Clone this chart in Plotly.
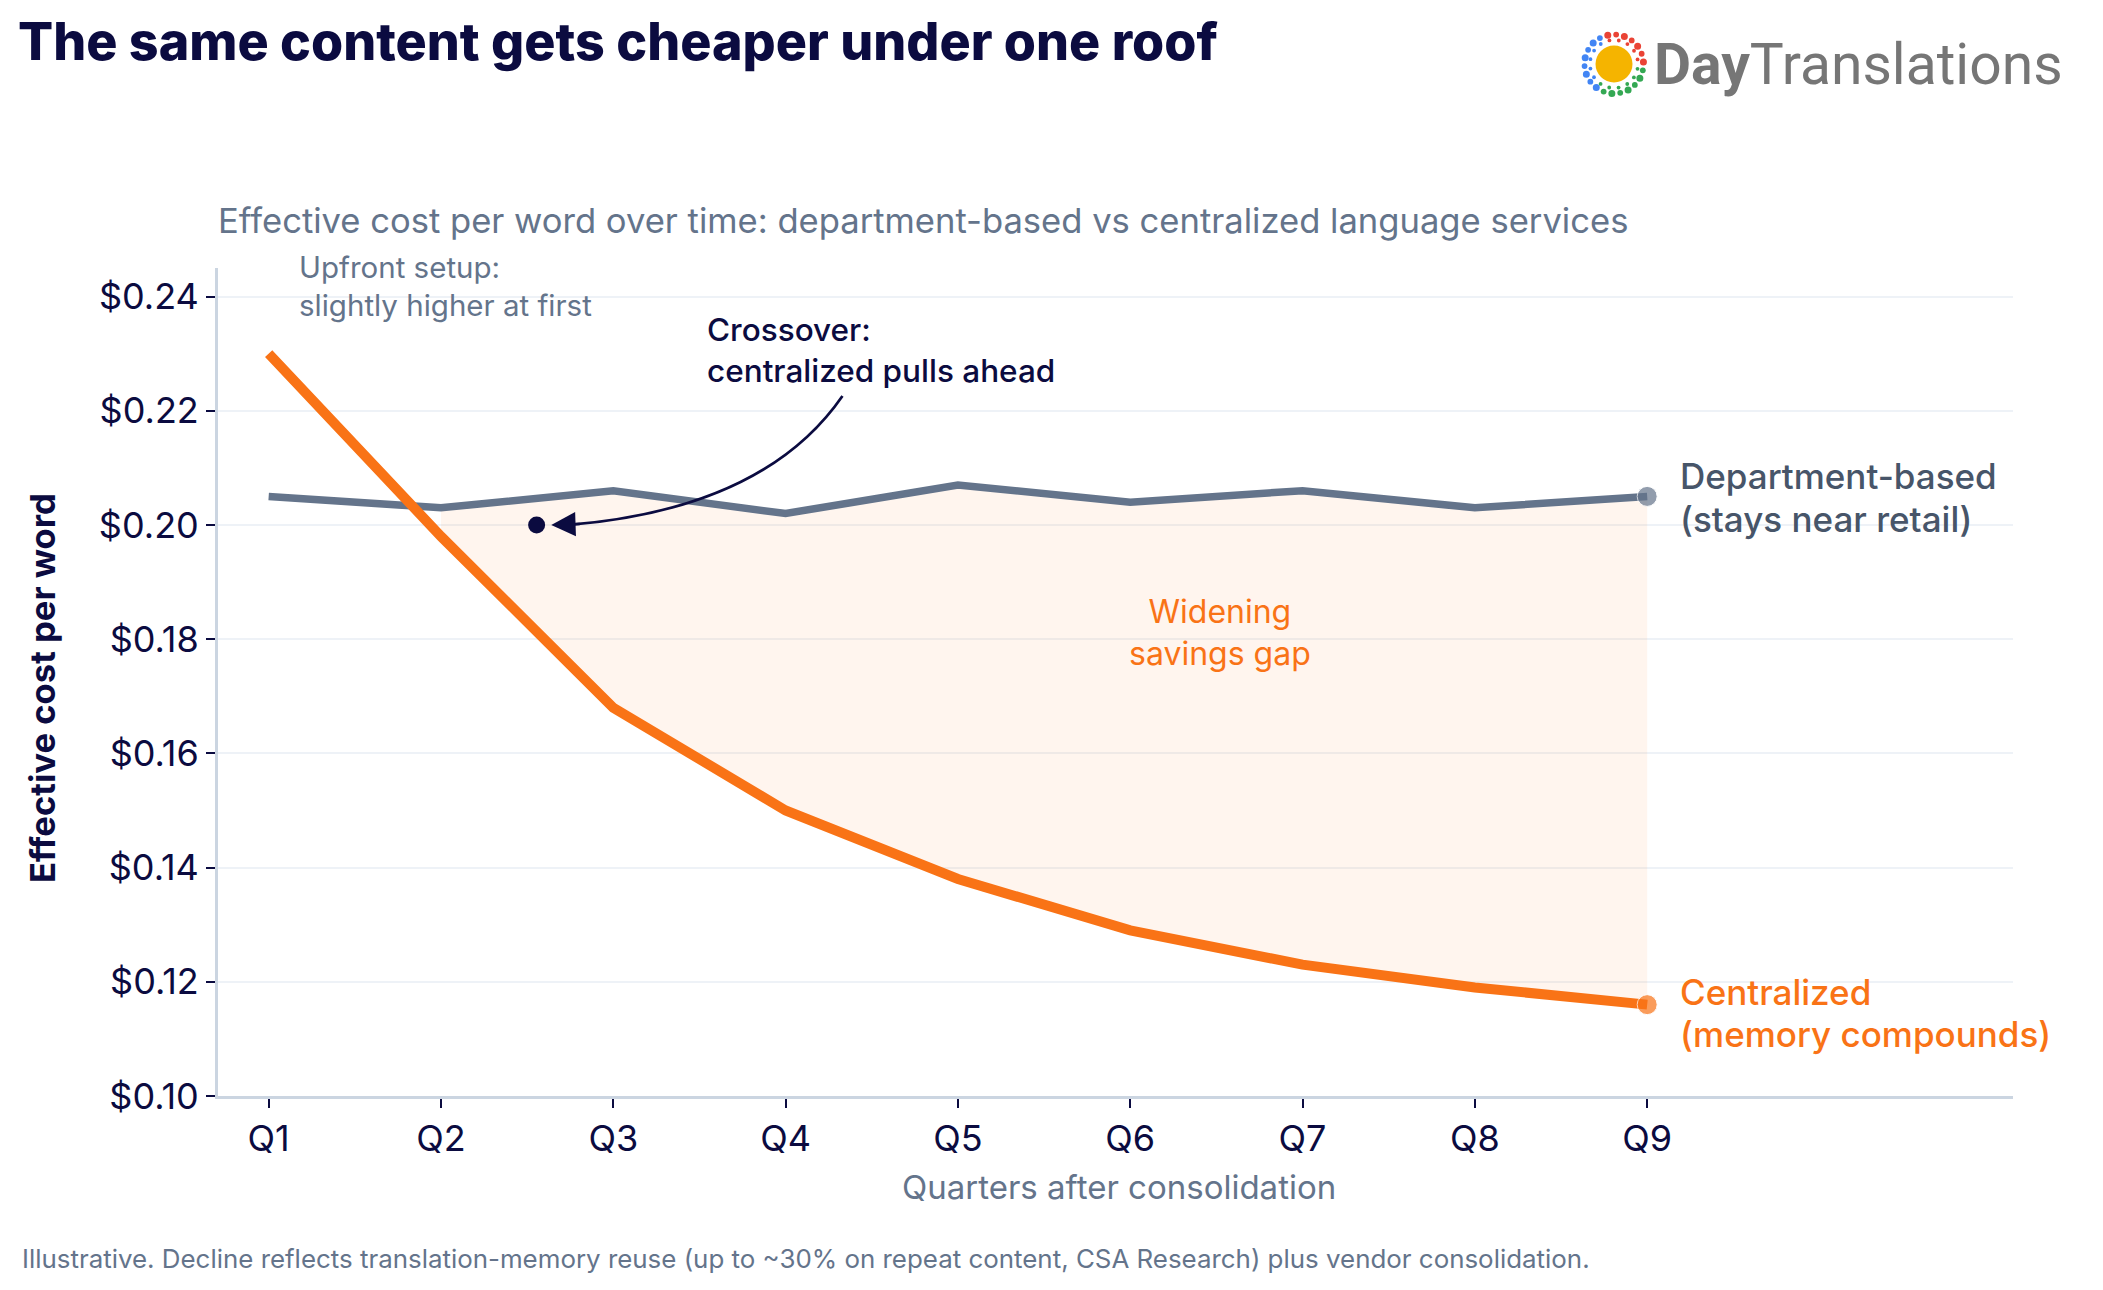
import math
import plotly.graph_objects as go

# ---------------- data ----------------
quarters = ["Q1", "Q2", "Q3", "Q4", "Q5", "Q6", "Q7", "Q8", "Q9"]
department_cost = [0.205, 0.203, 0.206, 0.202, 0.207, 0.204, 0.206, 0.203, 0.205]
centralized_cost = [0.230, 0.198, 0.168, 0.150, 0.138, 0.129, 0.123, 0.119, 0.116]
y_tick_values = [0.10, 0.12, 0.14, 0.16, 0.18, 0.20, 0.22, 0.24]
y_tick_labels = ["$0.10", "$0.12", "$0.14", "$0.16", "$0.18", "$0.20", "$0.22", "$0.24"]
fill_start_index = 1          # savings gap shaded from Q2 onward
crossover_point = (1.555, 0.200)

# ---------------- styles ----------------
NAVY = "#0b0b40"
SLATE = "#64748b"
SLATE_DARK = "#475569"
ORANGE = "#f97316"
FONT = "Inter"

x_idx = list(range(len(quarters)))
OFF = 8                       # page body margin
W, H = 2103 - 2 * OFF, 1290 - 2 * OFF

fig = go.Figure()

fig.add_trace(go.Scatter(
    x=x_idx[fill_start_index:], y=department_cost[fill_start_index:],
    mode="lines", line=dict(width=0, color=SLATE), hoverinfo="skip", showlegend=False))
fig.add_trace(go.Scatter(
    x=x_idx[fill_start_index:], y=centralized_cost[fill_start_index:],
    mode="lines", line=dict(width=0, color=ORANGE), fill="tonexty",
    fillcolor="rgba(249,115,22,0.075)", hoverinfo="skip", showlegend=False))

n = len(quarters)
fig.add_trace(go.Scatter(
    x=x_idx, y=department_cost, mode="lines+markers",
    line=dict(color=SLATE, width=7.5),
    marker=dict(size=[0] * (n - 1) + [20], color=SLATE),
    name="Department-based", showlegend=False))
fig.add_trace(go.Scatter(
    x=x_idx, y=centralized_cost, mode="lines+markers",
    line=dict(color=ORANGE, width=10),
    marker=dict(size=[0] * (n - 1) + [20], color=ORANGE),
    name="Centralized", showlegend=False))
fig.add_trace(go.Scatter(
    x=[crossover_point[0]], y=[crossover_point[1]], mode="markers",
    marker=dict(size=17, color=NAVY), showlegend=False, hoverinfo="skip"))

# ---------------- layout (positions in reference pixels) ----------------
PLOT_LEFT, PLOT_RIGHT, PLOT_TOP, PLOT_BOTTOM = 218, 2013, 268, 1096
L = PLOT_LEFT - OFF
T = PLOT_TOP - OFF
R = W - (PLOT_RIGHT - OFF)
B = H - (PLOT_BOTTOM - OFF)
plot_w = PLOT_RIGHT - PLOT_LEFT
plot_h = PLOT_BOTTOM - PLOT_TOP

def px_to_paper_x(px):
    return (px - PLOT_LEFT) / plot_w

def px_to_paper_y(py):
    return (PLOT_BOTTOM - py) / plot_h

fig.update_layout(
    width=W, height=H,
    margin=dict(l=L, r=R, t=T, b=B),
    paper_bgcolor="white", plot_bgcolor="white",
    font=dict(family=FONT, color=NAVY),
    showlegend=False,
    title=dict(
        text="The same content gets cheaper under one roof",
        x=(18 - OFF) / W, xref="container", xanchor="left",
        y=1 - (42 - OFF) / H, yref="container", yanchor="middle",
        font=dict(family=FONT, size=52, color=NAVY, weight=800),
    ),
    xaxis=dict(
        range=[-0.294, 10.123], tickmode="array", tickvals=x_idx, ticktext=quarters,
        showgrid=False, zeroline=False,
        showline=True, linecolor="#cbd5e1", linewidth=3,
        ticks="outside", ticklen=9, tickwidth=2, tickcolor=NAVY,
        tickfont=dict(family=FONT, size=36, color=NAVY),
    ),
    yaxis=dict(
        range=[0.10, 0.245], tickmode="array", tickvals=y_tick_values, ticktext=y_tick_labels,
        showgrid=True, gridcolor="#eef2f7", gridwidth=2, zeroline=False,
        showline=True, linecolor="#cbd5e1", linewidth=3,
        ticks="outside", ticklen=9, tickwidth=2, tickcolor=NAVY,
        tickfont=dict(family=FONT, size=36, color=NAVY),
    ),
)

annotations = [
    dict(text="Effective cost per word over time: department-based vs centralized language services",
         xref="paper", yref="paper", x=px_to_paper_x(216), y=px_to_paper_y(220), xanchor="left", yanchor="middle",
         showarrow=False, font=dict(family=FONT, size=34.6, color=SLATE)),
    dict(text="Effective cost per word", xref="paper", yref="paper",
         x=px_to_paper_x(42), y=px_to_paper_y(688), textangle=-90,
         xanchor="center", yanchor="middle", showarrow=False,
         font=dict(family=FONT, size=34.6, color=NAVY, weight=700)),
    dict(text="Quarters after consolidation", xref="paper", yref="paper",
         x=px_to_paper_x(1119), y=px_to_paper_y(1187), xanchor="center", yanchor="middle",
         showarrow=False, font=dict(family=FONT, size=33, color=SLATE)),
    dict(text="Illustrative. Decline reflects translation-memory reuse (up to ~30% on repeat content, CSA Research) plus vendor consolidation.",
         xref="paper", yref="paper", x=px_to_paper_x(20), y=px_to_paper_y(1258),
         xanchor="left", yanchor="middle", showarrow=False,
         font=dict(family=FONT, size=25.9, color=SLATE)),
    dict(text="Upfront setup:<br>slightly higher at first", xref="x", yref="y",
         x=0.163, y=0.2419, xanchor="left", yanchor="middle", align="left",
         showarrow=False, font=dict(family=FONT, size=29.5, color=SLATE)),
    dict(text="Crossover:<br>centralized pulls ahead", xref="x", yref="y",
         x=2.535, y=0.2306, xanchor="left", yanchor="middle", align="left",
         showarrow=False, font=dict(family=FONT, size=31.5, color=NAVY, weight=500)),
    dict(text="", xref="x", yref="y", x=1.64, y=0.2000, ax=30, ay=-1,
         showarrow=True, arrowhead=2, arrowsize=1.8, arrowwidth=2.7, arrowcolor=NAVY),
    dict(text="Widening<br>savings gap", xref="x", yref="y", x=5.52, y=0.1812,
         xanchor="center", yanchor="middle", align="center", showarrow=False,
         font=dict(family=FONT, size=32, color=ORANGE)),
    # end-of-line series labels (one annotation per line for tighter leading)
    dict(text="Department-based", xref="x", yref="y",
         x=8.18, y=0.2085, xanchor="left", yanchor="middle", align="left", showarrow=False,
         font=dict(family=FONT, size=35, color=SLATE_DARK, weight=500)),
    dict(text="(stays near retail)", xref="x", yref="y",
         x=8.18, y=0.2010, xanchor="left", yanchor="middle", align="left", showarrow=False,
         font=dict(family=FONT, size=35, color=SLATE_DARK, weight=500)),
    dict(text="Centralized", xref="x", yref="y",
         x=8.18, y=0.1183, xanchor="left", yanchor="middle", align="left", showarrow=False,
         font=dict(family=FONT, size=35, color=ORANGE, weight=500)),
    dict(text="(memory compounds)", xref="x", yref="y",
         x=8.18, y=0.1108, xanchor="left", yanchor="middle", align="left", showarrow=False,
         font=dict(family=FONT, size=35, color=ORANGE, weight=500)),
    dict(text="<b>Day</b>Translations", xref="paper", yref="paper",
         x=px_to_paper_x(1652), y=px_to_paper_y(64), xanchor="left", yanchor="middle",
         showarrow=False, font=dict(family="Roboto", size=57, color="#767676")),
]
fig.update_layout(annotations=annotations)

shapes = [dict(type="path", xref="x", yref="y",
               path="M 3.33,0.2226 Q 2.877,0.2028 1.74,0.2000",
               line=dict(color=NAVY, width=2.7))]

# logo icon (decoration): sun + dotted ring
cx, cy = px_to_paper_x(1614), px_to_paper_y(64)

def circle(r, color, dx=0.0, dy=0.0):
    return dict(type="circle", xref="paper", yref="paper",
                xsizemode="pixel", ysizemode="pixel", xanchor=cx, yanchor=cy,
                x0=dx - r, x1=dx + r, y0=dy - r, y1=dy + r,
                fillcolor=color, line=dict(width=0))

shapes.append(circle(18.5, "#f5b400"))

def ring_color(deg):
    d = deg % 360
    if d < 105:
        return "#ea4335"
    if d < 235:
        return "#4285f4"
    return "#34a853"

for k in range(22):
    a = k * 360 / 22 + 4
    shapes.append(circle(3.5 if k % 2 == 0 else 2.9, ring_color(a),
                         29.5 * math.cos(math.radians(a)), 29.5 * math.sin(math.radians(a))))
for k in range(16):
    a = k * 360 / 16 + 11
    shapes.append(circle(1.9, ring_color(a),
                         24 * math.cos(math.radians(a)), 24 * math.sin(math.radians(a))))
fig.update_layout(shapes=shapes)

fig.write_html("out.html")
